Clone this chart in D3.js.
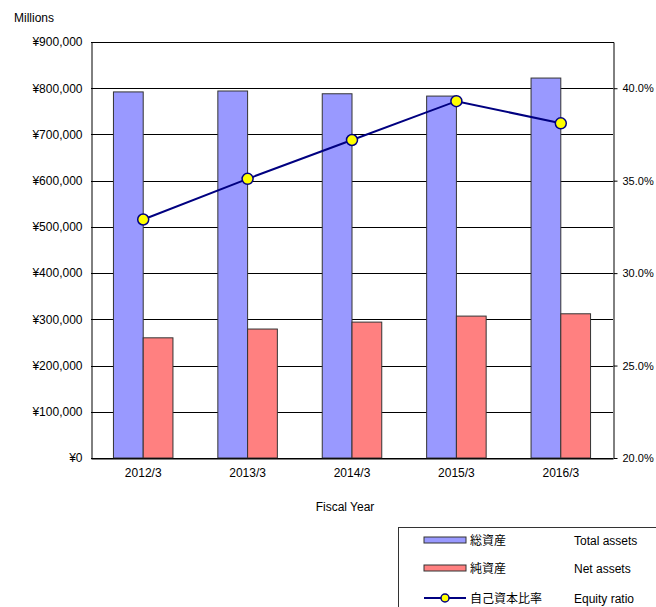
<!DOCTYPE html>
<html><head><meta charset="utf-8">
<script src="https://cdn.jsdelivr.net/npm/d3@7"></script>
<style>body{margin:0;background:#fff;} text{font-family:"Liberation Sans","Noto Sans CJK JP",sans-serif;}</style>
</head><body>
<svg id="c" width="656" height="607"></svg>
<script>
const categories = ["2012/3","2013/3","2014/3","2015/3","2016/3"];
const totalAssets = [792000, 794000, 788000, 783000, 822000];
const netAssets = [260000, 279000, 294000, 307000, 312000];
const equityRatio = [32.9, 35.1, 37.2, 39.3, 38.1];
const leftTicks = [0,100000,200000,300000,400000,500000,600000,700000,800000,900000];
const rightTicks = [20,25,30,35,40];
const legendJa = ["総資産","純資産","自己資本比率"];
const legendEn = ["Total assets","Net assets","Equity ratio"];

const svg = d3.select("#c");
const L=91, R=613, T=42, B=458;
const x = d3.scaleBand().domain(categories).range([L,R]);
const y = d3.scaleLinear().domain([0,900000]).range([B,T]);
const y2 = d3.scaleLinear().domain([20,42.5]).range([B,T]);
const fmt = d => "¥" + d3.format(",")(d);

// gridlines
svg.append("g").selectAll("line").data(leftTicks).join("line")
  .attr("x1",L).attr("x2",R).attr("y1",d=>Math.round(y(d))+0.5).attr("y2",d=>Math.round(y(d))+0.5)
  .attr("stroke","#000").attr("stroke-width",1);

const bw = x.bandwidth()*0.285;
const g = svg.append("g");
g.selectAll("rect.t").data(categories).join("rect").attr("class","t")
  .attr("x",(d)=>x(d)+x.bandwidth()/2-bw).attr("width",bw)
  .attr("y",(d,i)=>y(totalAssets[i])).attr("height",(d,i)=>B-y(totalAssets[i]))
  .attr("fill","#9999ff").attr("stroke","#333").attr("stroke-width",1);
g.selectAll("rect.n").data(categories).join("rect").attr("class","n")
  .attr("x",(d)=>x(d)+x.bandwidth()/2).attr("width",bw)
  .attr("y",(d,i)=>y(netAssets[i])).attr("height",(d,i)=>B-y(netAssets[i]))
  .attr("fill","#ff8080").attr("stroke","#333").attr("stroke-width",1);

// axes
const ax = svg.append("g").attr("transform",`translate(${L+0.5},0)`)
  .call(d3.axisLeft(y).tickValues(leftTicks).tickFormat(fmt).tickSize(0).tickPadding(9));
ax.select(".domain").attr("stroke","#000");
ax.selectAll("text").attr("font-size",12).attr("fill","#000");
const ax2 = svg.append("g").attr("transform",`translate(${R+0.5},0)`)
  .call(d3.axisRight(y2).tickValues(rightTicks).tickFormat(d=>d.toFixed(1)+"%").tickSizeInner(4).tickSizeOuter(0).tickPadding(5));
ax2.select(".domain").attr("stroke","#000");
ax2.selectAll("line").attr("stroke","#000");
ax2.selectAll("text").attr("font-size",11).attr("fill","#000");
const axb = svg.append("g").attr("transform",`translate(0,${B+0.5})`)
  .call(d3.axisBottom(x).tickSize(0).tickPadding(10));
axb.select(".domain").attr("stroke","#000");
axb.selectAll("text").attr("font-size",12).attr("fill","#000");
svg.append("line").attr("x1",L).attr("x2",R+1).attr("y1",T+0.5).attr("y2",T+0.5).attr("stroke","#000");

// line
const cx = d => x(d)+x.bandwidth()/2;
svg.append("path").datum(categories)
  .attr("d", d3.line().x(cx).y((d,i)=>y2(equityRatio[i])))
  .attr("fill","none").attr("stroke","#000080").attr("stroke-width",2);
svg.append("g").selectAll("circle").data(categories).join("circle")
  .attr("cx",cx).attr("cy",(d,i)=>y2(equityRatio[i])).attr("r",5.5)
  .attr("fill","#ffff00").attr("stroke","#000080").attr("stroke-width",1.5);

svg.append("text").attr("x",14).attr("y",22).attr("font-size",12).text("Millions");
svg.append("text").attr("x",345).attr("y",511).attr("text-anchor","middle").attr("font-size",12).text("Fiscal Year");

// legend
const lg = svg.append("g");
lg.append("rect").attr("x",398.5).attr("y",527.5).attr("width",300).attr("height",120).attr("fill","#fff").attr("stroke","#333");
const rowsY = [540,568,598];
[["#9999ff"],["#ff8080"]].forEach((c,i)=>{
  lg.append("rect").attr("x",424).attr("y",rowsY[i]-3).attr("width",42).attr("height",6)
    .attr("fill",c[0]).attr("stroke","#333");
});
lg.append("line").attr("x1",424).attr("x2",466).attr("y1",rowsY[2]).attr("y2",rowsY[2]).attr("stroke","#000080").attr("stroke-width",2);
lg.append("circle").attr("cx",445).attr("cy",rowsY[2]).attr("r",4).attr("fill","#ffff00").attr("stroke","#000080").attr("stroke-width",1.5);
legendJa.forEach((t,i)=>lg.append("text").attr("x",470).attr("y",rowsY[i]+5).attr("font-size",12).text(t));
legendEn.forEach((t,i)=>lg.append("text").attr("x",574).attr("y",rowsY[i]+5).attr("font-size",12).text(t));
</script>
</body></html>
